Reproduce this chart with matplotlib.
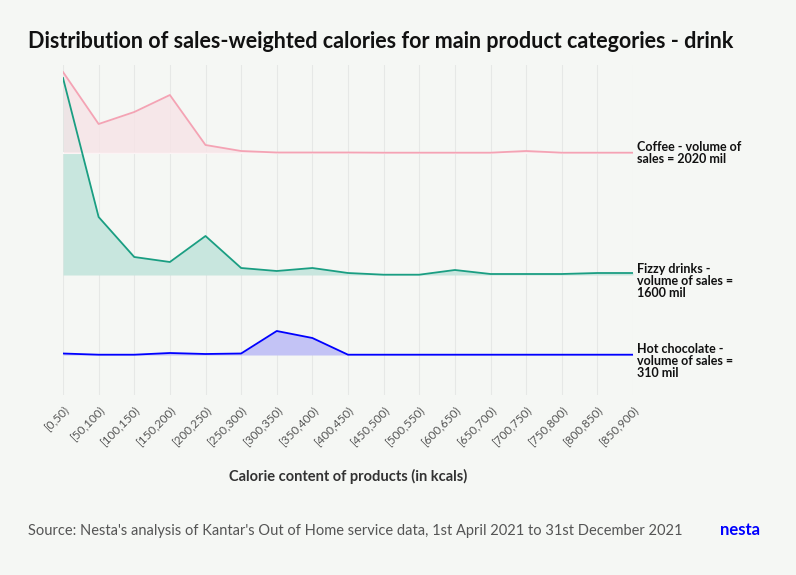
import matplotlib
matplotlib.use("Agg")
import matplotlib.pyplot as plt
import numpy as np

categories = ["[0,50)","[50,100)","[100,150)","[150,200)","[200,250)","[250,300)","[300,350)","[350,400)",
              "[400,450)","[450,500)","[500,550)","[600,650)","[650,700)","[700,750)","[750,800)","[800,850)","[850,900)"]
coffee = [81, 29, 41, 58, 8, 2, 0.5, 0.5, 0.5, 0.3, 0.3, 0.3, 0.3, 2, 0.3, 0.3, 0.3]
fizzy = [197, 58, 18, 13, 39, 7, 4, 7, 2, 0.3, 0.3, 5, 1, 1, 1, 2, 2]
hotchoc = [1.5, 0.3, 0.3, 2, 1, 1.5, 24, 17, 0.3, 0.3, 0.3, 0.3, 0.3, 0.3, 0.3, 0.3, 0.3]
labels = ["Coffee - volume of\nsales = 2020 mil", "Fizzy drinks -\nvolume of sales =\n1600 mil",
          "Hot chocolate -\nvolume of sales =\n310 mil"]

plt.rcParams['font.family'] = ['Lato', 'DejaVu Sans']
bg = "#f5f7f4"
fig = plt.figure(figsize=(7.96, 5.75), dpi=100, facecolor=bg)
W, H = 796, 575
ax = fig.add_axes([63/W, 1-395/H, (633-63)/W, (395-65)/H])
ax.set_facecolor(bg)
x = np.arange(len(categories))
ax.set_xlim(0, len(categories)-1)
ax.set_ylim(180, 510)

series = [(hotchoc, 220, "#0000ff", "#c3c3f5", 1), (fizzy, 300, "#1a9e82", "#c8e6de", 2), (coffee, 422, "#f4a3b4", "#f7e4e7", 3)]
for vals, base, lc, fc, z in series:
    v = np.array(vals) + base
    ax.fill_between(x, base, v, color=fc, alpha=0.8 if z == 3 else 1, zorder=z, lw=0)
    ax.plot(x, v, color=lc, lw=1.3, zorder=10 + z)
    if z == 3:
        ax.axhline(base, color="white", lw=1.5, zorder=z - 0.1)

for i in x:
    ax.axvline(i, color="#e6e8e6", lw=0.8, zorder=0)
for s in ax.spines.values():
    s.set_visible(False)
ax.set_yticks([])
ax.set_xticks(x)
ax.set_xticklabels(categories, rotation=45, ha="right", rotation_mode="anchor", fontsize=8.5, color="#555555")
ax.tick_params(axis="x", length=0, pad=6)
ax.set_xlabel("Calorie content of products (in kcals)", fontsize=10.5, fontweight="bold", color="#333333", labelpad=16)

for (lab, ypx) in zip(labels, [153, 275, 355]):
    fig.text(637/W, 1-(ypx-12)/H, lab, fontsize=9, fontweight="bold", va="top", ha="left", color="#111111",
             linespacing=1.0)

fig.text(28/W, 1-42/H, "Distribution of sales-weighted calories for main product categories - drink",
         fontsize=15.5, fontweight="bold", va="center", color="#111111")
fig.text(28/W, 1-531/H, "Source: Nesta's analysis of Kantar's Out of Home service data, 1st April 2021 to 31st December 2021",
         fontsize=10.5, va="center", color="#555555")
fig.text(760/W, 1-530/H, "nesta", fontsize=12, fontweight="bold", va="center", ha="right", color="#0000ff")
fig.savefig("out.png", dpi=100, facecolor=bg)
